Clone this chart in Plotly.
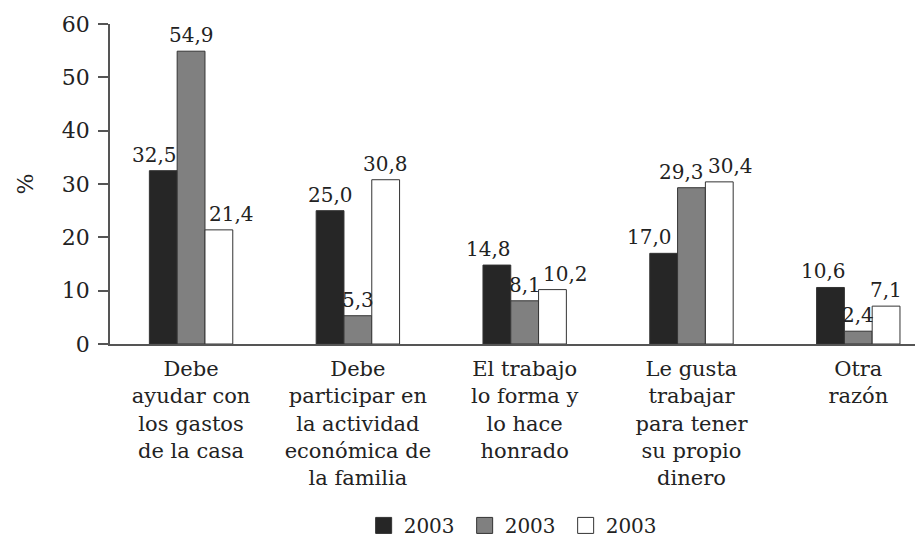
import plotly.graph_objects as go

categories = [
    "Debe<br>ayudar con<br>los gastos<br>de la casa",
    "Debe<br>participar en<br>la actividad<br>económica de<br>la familia",
    "El trabajo<br>lo forma y<br>lo hace<br>honrado",
    "Le gusta<br>trabajar<br>para tener<br>su propio<br>dinero",
    "Otra<br>razón",
]
series_names = ["2003", "2003", "2003"]
serie_1 = [32.5, 25.0, 14.8, 17.0, 10.6]
serie_2 = [54.9, 5.3, 8.1, 29.3, 2.4]
serie_3 = [21.4, 30.8, 10.2, 30.4, 7.1]
y_ticks = [0, 10, 20, 30, 40, 50, 60]

# label nudges (px) so neighbouring value labels do not collide, as in the original
nudges = [[-9, 0, -8, -14, -7], [0, 0, 0, -10, 0], [13, 0, 13, 11, 0]]

fills = ["#262626", "#808080", "#ffffff"]
FONT = "DejaVu Serif, Liberation Serif, serif"
TXT = "#222222"

W, H = 915, 533
ML, MR, MT, MB = 102, 0, 16, 197
X_RANGE = [-0.486, 4.388]
BARGAP = 0.5
bar_px = (W - ML - MR) / (X_RANGE[1] - X_RANGE[0]) * (1 - BARGAP) / 3

def fmt(v):
    return f"{v:.1f}".replace(".", ",")

fig = go.Figure()
annotations = []
for i, (name, vals, col) in enumerate(zip(series_names, [serie_1, serie_2, serie_3], fills)):
    fig.add_trace(go.Bar(
        x=categories, y=vals, name=name,
        marker=dict(color=col, line=dict(color="#333333", width=1)),
        showlegend=False, hoverinfo="x+y",
    ))
    fig.add_trace(go.Scatter(
        x=[None], y=[None], mode="markers", name=name,
        marker=dict(symbol="square", size=16, color=col,
                    line=dict(color="#333333", width=1)),
        showlegend=True,
    ))
    for j, (c, v) in enumerate(zip(categories, vals)):
        annotations.append(dict(
            x=c, y=v, xref="x", yref="y", text=fmt(v), showarrow=False,
            xanchor="center", yanchor="bottom",
            xshift=(i - 1) * bar_px + nudges[i][j], yshift=2,
            font=dict(family=FONT, size=20, color=TXT),
        ))

fig.update_layout(
    width=W, height=H,
    margin=dict(l=ML, r=MR, t=MT, b=MB, autoexpand=False),
    paper_bgcolor="white", plot_bgcolor="white",
    barmode="group", bargap=BARGAP, bargroupgap=0,
    font=dict(family=FONT, size=21, color=TXT),
    annotations=annotations,
    showlegend=True,
    legend=dict(orientation="h", x=0.312, xanchor="left", y=-0.506, yanchor="top",
                font=dict(family=FONT, size=20, color=TXT),
                entrywidth=56, itemsizing="trace", traceorder="normal"),
    xaxis=dict(range=X_RANGE, showline=True, linecolor="#555555", linewidth=1.5,
               ticks="", ticklabelstandoff=5,
               tickfont=dict(family=FONT, size=21, color=TXT), showgrid=False,
               automargin=False),
    yaxis=dict(range=[0, 60], tickvals=y_ticks, showline=True, linecolor="#555555", linewidth=1.5,
               ticks="outside", ticklen=10, tickcolor="#555555", tickwidth=1.5,
               ticklabelstandoff=4,
               tickfont=dict(family=FONT, size=22, color=TXT), showgrid=False, zeroline=False,
               automargin=False,
               title=dict(text="%", font=dict(family=FONT, size=22, color=TXT), standoff=22)),
)
fig.write_html("out.html")
